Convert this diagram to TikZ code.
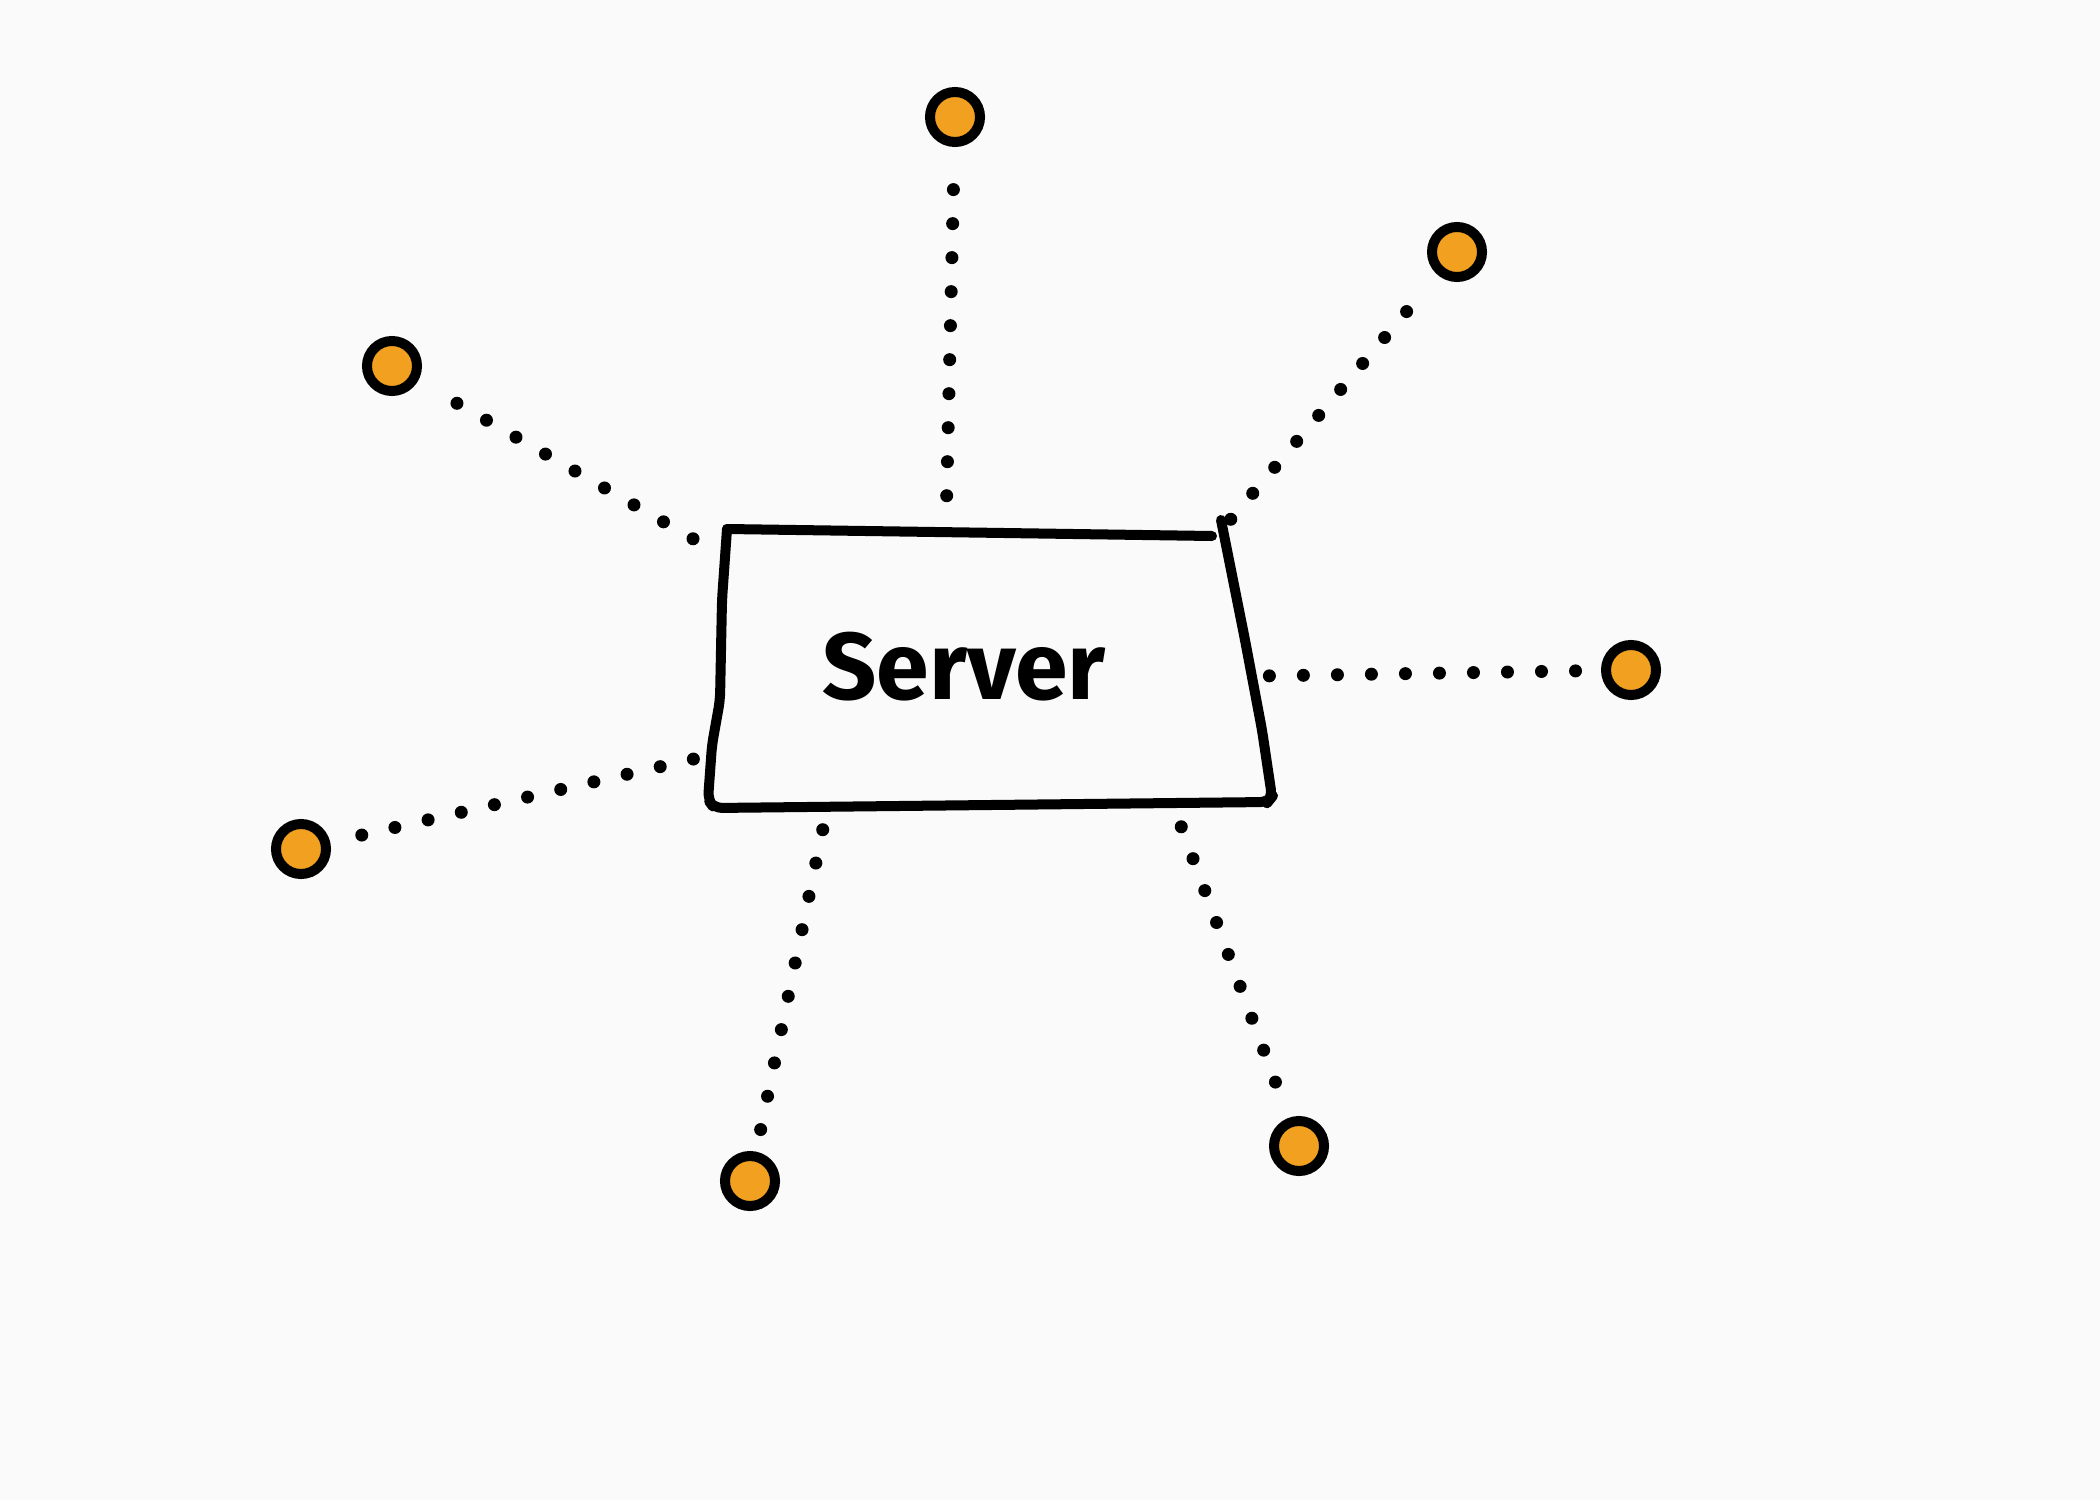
\documentclass[tikz,border=0pt]{standalone}
\usepackage{fontspec}
\newfontfamily\handfont{Fira Sans}
\definecolor{paper}{HTML}{FAFAFA}
\definecolor{dotorange}{HTML}{F1A01F}
\tikzset{
  client/.style={circle,draw=black,fill=dotorange,line width=0.1cm,minimum size=0.5cm,inner sep=0pt},
  link/.style={line width=0.13cm,line cap=round,dash pattern=on 0pt off 0.34cm,shorten >=0.18cm},
  boxline/.style={line width=0.1cm,line cap=round,line join=round,rounded corners=0.08cm}
}
\begin{document}
\begin{tikzpicture}[x=0.01cm,y=-0.01cm]
        \fill[paper](0,0)rectangle(2100,1500);
        \useasboundingbox(0,0)rectangle(2100,1500);
        % server box
        \node[minimum width=5.25cm,minimum height=2.71cm](server)at(985,667){};
        \node[font=\handfont\bfseries\fontsize{27}{30}\selectfont](servertext)at(964,667){Server};
        \draw[boxline](727,529)--(1212,536);
        \draw[boxline](1221,520)--(1245,640)--(1262,730)--(1272,797)--(1268,802)--(714,808)--(708,800)--(712,745)--(720,700)--(722,600)--(727,529);
        % clients
        \node[client](N)at(955,117){};
        \node[client](NE)at(1457,252){};
        \node[client](NW)at(392,366){};
        \node[client](E)at(1631,670){};
        \node[client](W)at(301,849){};
        \node[client](SW)at(750,1181){};
        \node[client](SE)at(1299,1146){};
        % links
        \draw[link,shorten <=0.35cm](server.106.8)--(N);
        \draw[link,shorten <=0.15cm](server.30.1)--(NE);
        \draw[link,shorten <=0.33cm](server.157.4)--(NW);
        \draw[link,shorten <=0.21cm](server.358.5)--(E);
        \draw[link,shorten <=0.29cm](server.198.9)--(W);
        \draw[link,shorten <=0.27cm](server.221.9)--(SW);
        \draw[link,shorten <=0.25cm](server.324.9)--(SE);
\end{tikzpicture}
\end{document}
